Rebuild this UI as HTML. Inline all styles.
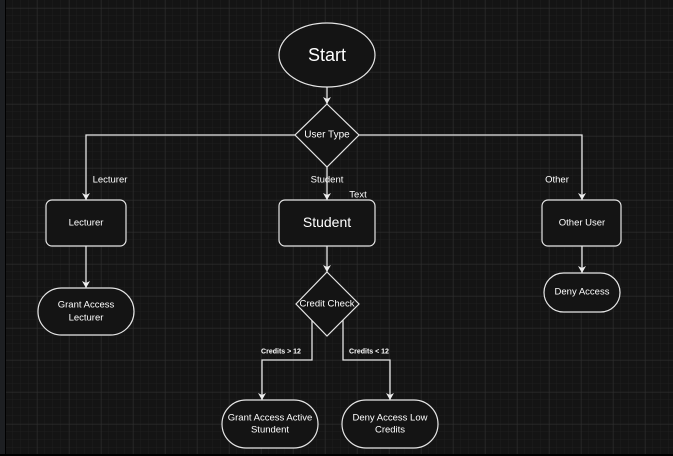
<!DOCTYPE html>
<html><head><style>
html,body{margin:0;padding:0;background:#1d1f22;}
svg{display:block;}
text{font-family:"Liberation Sans",sans-serif;fill:#fff;text-anchor:middle;dominant-baseline:central;}
</style></head><body>
<svg width="673" height="456" viewBox="0 0 673 456" xmlns="http://www.w3.org/2000/svg">
<defs>
<pattern id="minor" x="5" y="0" width="8" height="8" patternUnits="userSpaceOnUse">
<path d="M8 0V8M0 8H8" stroke="#1e1e1e" stroke-width="1"/>
</pattern>
<pattern id="major" x="5" y="8" width="32" height="32" patternUnits="userSpaceOnUse">
<path d="M0 0V32M0 0H32" stroke="#2e2e2e" stroke-width="1"/>
</pattern>
<marker id="a" markerWidth="8" markerHeight="8" refX="7" refY="4" orient="auto" markerUnits="userSpaceOnUse">
<path d="M0 0L7 4L0 8L2 4Z" fill="#eee"/>
</marker>
</defs>
<rect x="6" y="0" width="667" height="454" fill="#141414"/>
<rect x="6" y="0" width="667" height="454" fill="url(#minor)"/>
<rect x="6" y="0" width="667" height="454" fill="url(#major)"/>
<line x1="5.5" y1="0" x2="5.5" y2="456" stroke="#000"/>
<rect x="0" y="454" width="673" height="2" fill="#000"/>

<g stroke="#e6e6e6" stroke-width="1.3" fill="none">
<line x1="327" y1="87" x2="327" y2="104" marker-end="url(#a)"/>
<path d="M295 135H86V200" marker-end="url(#a)"/>
<path d="M359 135H582V200" marker-end="url(#a)"/>
<line x1="327" y1="167" x2="327" y2="200" marker-end="url(#a)"/>
<line x1="86" y1="246" x2="86" y2="288" marker-end="url(#a)"/>
<line x1="582" y1="246" x2="582" y2="273" marker-end="url(#a)"/>
<line x1="327" y1="246" x2="327" y2="272" marker-end="url(#a)"/>
<path d="M312 320V360H262V400" marker-end="url(#a)"/>
<path d="M343 320V360H390V400" marker-end="url(#a)"/>
</g>

<g stroke="#e6e6e6" stroke-width="1.2" fill="#141414">
<ellipse cx="327" cy="55" rx="48" ry="32"/>
<polygon points="327,104 359,135 327,167 295,135"/>
<rect x="46" y="200" width="80" height="46" rx="6"/>
<rect x="279" y="200" width="96" height="46" rx="6"/>
<rect x="542" y="200" width="79" height="46" rx="6"/>
<rect x="38" y="288" width="96" height="47" rx="23.5"/>
<rect x="544" y="273" width="76" height="39" rx="19.5"/>
<polygon points="327,272 359,304 327,336 296,304"/>
<rect x="222" y="400" width="96" height="48" rx="24"/>
<rect x="342" y="400" width="96" height="48" rx="24"/>
</g>

<text x="327" y="55" font-size="18">Start</text>
<text x="327" y="135" font-size="10">User Type</text>
<text x="110" y="180" font-size="9.5">Lecturer</text>
<text x="327" y="180" font-size="9.5">Student</text>
<text x="358" y="195" font-size="9.5">Text</text>
<text x="557" y="180" font-size="9.5">Other</text>
<text x="86" y="223" font-size="9.5">Lecturer</text>
<text x="327" y="222" font-size="14">Student</text>
<text x="582" y="223" font-size="9.5">Other User</text>
<text x="86" y="305" font-size="9.5">Grant Access</text>
<text x="86" y="318" font-size="9.5">Lecturer</text>
<text x="582" y="292" font-size="9.5">Deny Access</text>
<text x="327" y="304" font-size="9.5">Credit Check</text>
<text x="281" y="352" font-size="7" font-weight="bold">Credits &gt; 12</text>
<text x="369" y="352" font-size="7" font-weight="bold">Credits &lt; 12</text>
<text x="270" y="418" font-size="9.5">Grant Access Active</text>
<text x="270" y="430" font-size="9.5">Stundent</text>
<text x="390" y="418" font-size="9.5">Deny Access Low</text>
<text x="390" y="430" font-size="9.5">Credits</text>
</svg>
</body></html>
